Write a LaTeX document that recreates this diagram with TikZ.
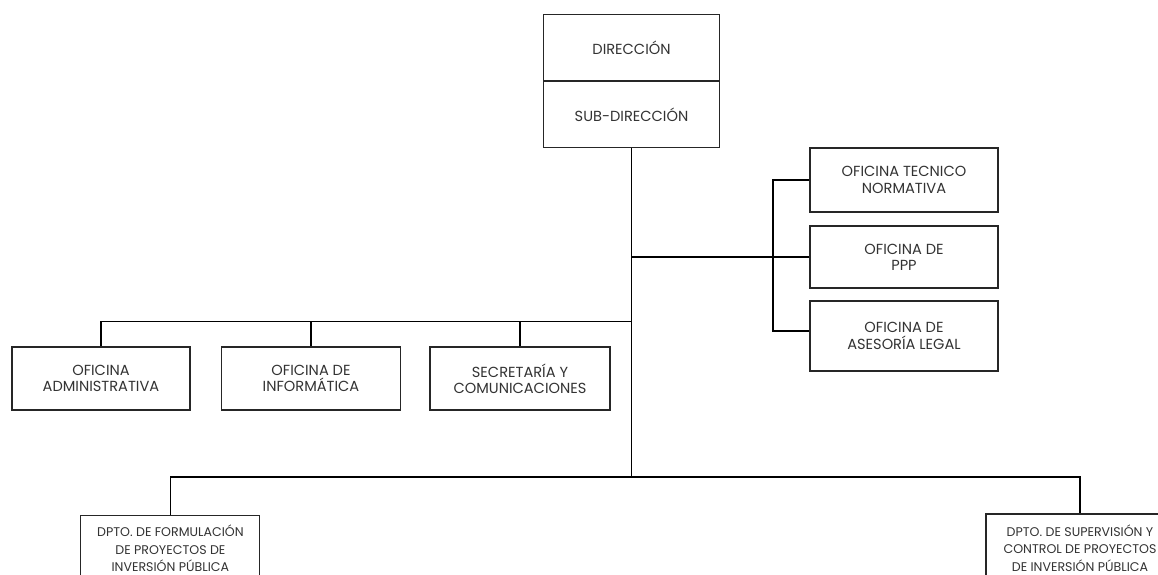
\documentclass[tikz,border=0pt]{standalone}
\usepackage{fontspec}
\setmainfont{Poppins}
\usepackage{tikz}
\usetikzlibrary{positioning}

\begin{document}
\begin{tikzpicture}[x=1pt,y=-1pt,
    box/.style={draw=black!85, line width=1.1pt, align=center, text=black!80,
      font=\fontsize{14.6}{16.3}\selectfont, inner sep=0pt},
    dptobox/.style={box, font=\fontsize{12.6}{17.7}\selectfont},
    link/.style={draw=black, line width=1.1pt}]
    % Canvas
    \useasboundingbox (0,0) rectangle (1158,574);
    \clip (0,0) rectangle (1158,574);
    \fill[white] (0,0) rectangle (1158,574);
    % Top boxes
    \node[box, minimum width=176pt, minimum height=66.5pt] (dir) at (631.5,47.3) {DIRECCIÓN};
    \node[box, minimum width=176pt, minimum height=66pt, below=0pt of dir] (sub) {SUB-DIRECCIÓN};
    % Right offices
    \node[box, minimum width=188pt, minimum height=64pt] (tn) at (904,180) {OFICINA TECNICO\\NORMATIVA};
    \node[box, minimum width=188pt, minimum height=62pt] (ppp) at (904,257) {OFICINA DE\\PPP};
    \node[box, minimum width=188pt, minimum height=70pt] (legal) at (904,336) {OFICINA DE\\ASESORÍA LEGAL};
    % Middle offices
    \node[box, minimum width=178pt, minimum height=63pt] (adm) at (101,378.5) {OFICINA\\ADMINISTRATIVA};
    \node[box, minimum width=179pt, minimum height=63pt] (info) at (311,378.5) {OFICINA DE\\INFORMÁTICA};
    \node[box, minimum width=180pt, minimum height=63pt] (sec) at (520,378.5) {SECRETARÍA Y\\COMUNICACIONES};
    % Departments
    \node[dptobox, minimum width=179pt, minimum height=65pt] (form) at (170.4,548.3) {DPTO. DE FORMULACIÓN\\DE PROYECTOS DE\\INVERSIÓN PÚBLICA};
    \node[dptobox, minimum width=188pt, minimum height=68pt] (sup) at (1080,548) {DPTO. DE SUPERVISIÓN Y\\CONTROL DE PROYECTOS\\DE INVERSIÓN PÚBLICA};
    % Bus points
    \coordinate (mbus) at (631.5,321.5);
    \coordinate (rbus) at (773,257);
    \coordinate (trunk) at (631.5,477);
    % Draw lines
    \draw[link] (sub.south) -- (trunk);
    \draw[link] (adm.north) |- (mbus);
    \draw[link] (info.north) -- (info.north |- mbus);
    \draw[link] (sec.north) -- (sec.north |- mbus);
    \draw[link] (sub.south |- rbus) -- (rbus) -- (ppp.west);
    \draw[link] (tn.west) -| (rbus) |- ([yshift=5pt]legal.west);
    \draw[link] (form.north) |- (trunk) -| (sup.north);
\end{tikzpicture}
\end{document}
